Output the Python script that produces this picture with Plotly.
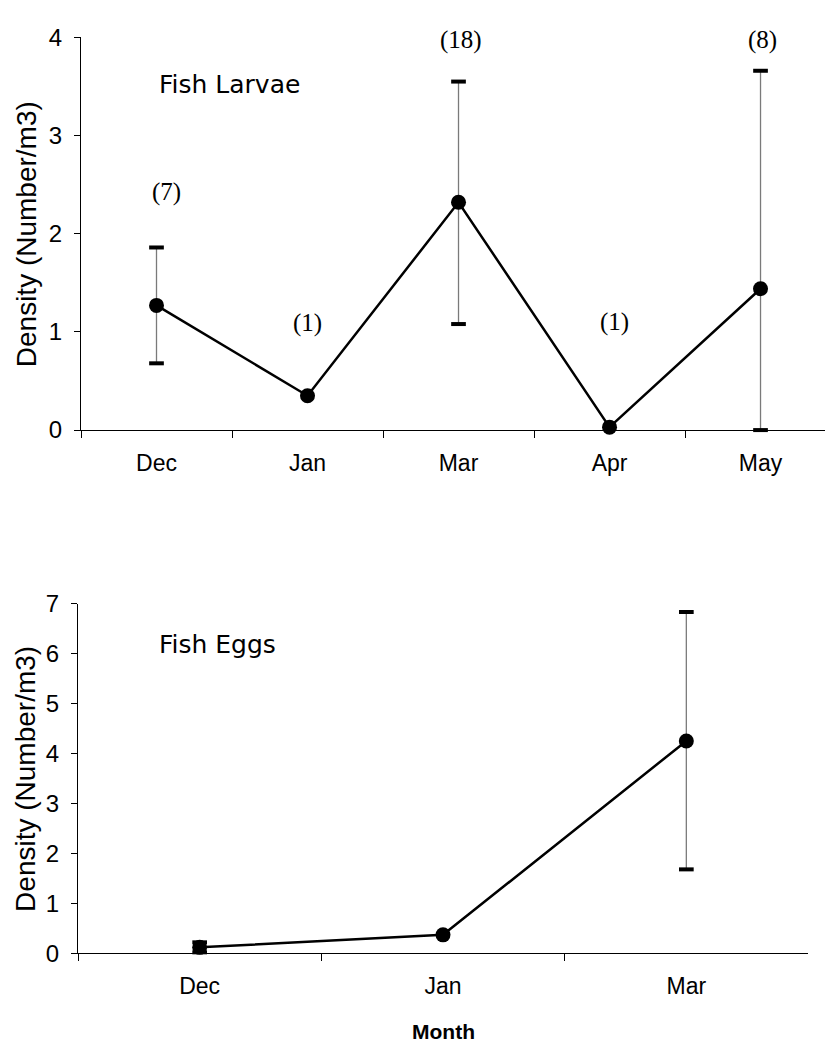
import plotly.graph_objects as go

# ---- data ----
larvae_months = ["Dec", "Jan", "Mar", "Apr", "May"]
larvae_mean = [1.27, 0.35, 2.32, 0.03, 1.44]
larvae_upper = [1.86, None, 3.55, None, 3.66]
larvae_lower = [0.68, None, 1.08, None, 0.0]
larvae_n = [7, 1, 18, 1, 8]

egg_months = ["Dec", "Jan", "Mar"]
egg_mean = [0.12, 0.37, 4.25]
egg_upper = [0.22, None, 6.83]
egg_lower = [0.02, None, 1.68]
egg_n = [None, None, 15]

# vertical placement of the sample-size labels (data units)
larvae_label_y = [2.42, 1.09, 3.97, 1.10, 3.97]
larvae_label_dx = [10, 0, 2, 5, 2]
egg_label_y = [None, None, 7.39]
egg_label_dx = [0, 0, 4]

W, H = 825, 1055
TICK_FONT = "Liberation Sans"
SERIF = "Liberation Serif"
TITLE_FONT = "DejaVu Sans"

fig = go.Figure()


def add_panel(months, mean, upper, lower, xa, ya):
    plus = [0 if u is None else u - m for u, m in zip(upper, mean)]
    minus = [0 if l is None else m - l for l, m in zip(lower, mean)]
    # thin grey stems
    fig.add_trace(go.Scatter(
        x=months, y=mean, mode="markers",
        marker=dict(size=1, color="rgba(0,0,0,0)"),
        error_y=dict(type="data", array=plus, arrayminus=minus,
                     symmetric=False, color="#7a7a7a", thickness=1.3, width=0,
                     visible=True),
        xaxis=xa, yaxis=ya, hoverinfo="skip", cliponaxis=False,
    ))
    # heavy black caps at the ends of each bar
    cx, cy = [], []
    for m, u, l in zip(months, upper, lower):
        if u is not None:
            cx += [m, m]
            cy += [u, l]
    fig.add_trace(go.Scatter(
        x=cx, y=cy, mode="markers",
        marker=dict(symbol="line-ew", size=10.5,
                    line=dict(width=4, color="black")),
        xaxis=xa, yaxis=ya, hoverinfo="skip", cliponaxis=False,
    ))
    # the mean density line
    fig.add_trace(go.Scatter(
        x=months, y=mean, mode="lines+markers",
        line=dict(color="black", width=2.5),
        marker=dict(symbol="circle", size=15, color="black"),
        xaxis=xa, yaxis=ya, cliponaxis=False,
    ))


add_panel(larvae_months, larvae_mean, larvae_upper, larvae_lower, "x", "y")
add_panel(egg_months, egg_mean, egg_upper, egg_lower, "x2", "y2")

annotations = []
for m, n, yy, dx in zip(larvae_months, larvae_n, larvae_label_y, larvae_label_dx):
    if n is not None:
        annotations.append(dict(x=m, y=yy, xref="x", yref="y", text=f"({n})",
                                showarrow=False, xshift=dx,
                                xanchor="center", yanchor="middle",
                                font=dict(family=SERIF, size=25, color="black")))
for m, n, yy, dx in zip(egg_months, egg_n, egg_label_y, egg_label_dx):
    if n is not None:
        annotations.append(dict(x=m, y=yy, xref="x2", yref="y2", text=f"({n})",
                                showarrow=False, xshift=dx,
                                xanchor="center", yanchor="middle",
                                font=dict(family=SERIF, size=25, color="black")))

# panel titles
annotations.append(dict(x=157 / W, y=1 - 72 / H, xref="paper", yref="paper",
                        text="Fish Larvae", showarrow=False,
                        xanchor="left", yanchor="middle",
                        font=dict(family=TITLE_FONT, size=25, color="black")))
annotations.append(dict(x=157 / W, y=1 - 647 / H, xref="paper", yref="paper",
                        text="Fish Eggs", showarrow=False,
                        xanchor="left", yanchor="middle",
                        font=dict(family=TITLE_FONT, size=25, color="black")))
# y-axis titles
for yc in (226, 785):
    annotations.append(dict(x=26 / W, y=1 - yc / H, xref="paper", yref="paper",
                            text="Density (Number/m3)", showarrow=False,
                            textangle=-90, xanchor="center", yanchor="middle",
                            font=dict(family=TICK_FONT, size=28, color="black")))
# x-axis title of the lower panel
annotations.append(dict(x=443 / W, y=1 - 1044 / H, xref="paper", yref="paper",
                        text="<b>Month</b>", showarrow=False,
                        xanchor="center", yanchor="middle",
                        font=dict(family=TICK_FONT, size=21, color="black")))

xcommon = dict(type="category", showline=True, linecolor="black", linewidth=1,
               ticks="outside", ticklen=7, tickcolor="black", tickwidth=1,
               tickson="boundaries", showgrid=False, zeroline=False,
               tickfont=dict(family=TICK_FONT, size=23, color="black"),
               ticklabelstandoff=12)
ycommon = dict(showline=True, linecolor="black", linewidth=1,
               ticks="outside", ticklen=6, tickcolor="black", tickwidth=1,
               showgrid=False, zeroline=False, dtick=1,
               tickfont=dict(family=TICK_FONT, size=24, color="black"),
               ticklabelstandoff=7)

fig.update_layout(
    width=W, height=H,
    margin=dict(l=0, r=0, t=0, b=0),
    paper_bgcolor="white", plot_bgcolor="white",
    showlegend=False,
    xaxis=dict(xcommon, domain=[81 / W, 1.0], range=[-0.5, 4.427],
               categoryorder="array", categoryarray=larvae_months, anchor="y"),
    yaxis=dict(ycommon, domain=[1 - 427 / H, 1 - 24 / H], range=[0, 4], anchor="x"),
    xaxis2=dict(xcommon, domain=[78 / W, 808 / W], range=[-0.5, 2.5],
                categoryorder="array", categoryarray=egg_months, anchor="y2"),
    yaxis2=dict(ycommon, domain=[1 - 964 / H, 1 - 605 / H], range=[0, 7], anchor="x2"),
    annotations=annotations,
)

fig.write_html("out.html")
